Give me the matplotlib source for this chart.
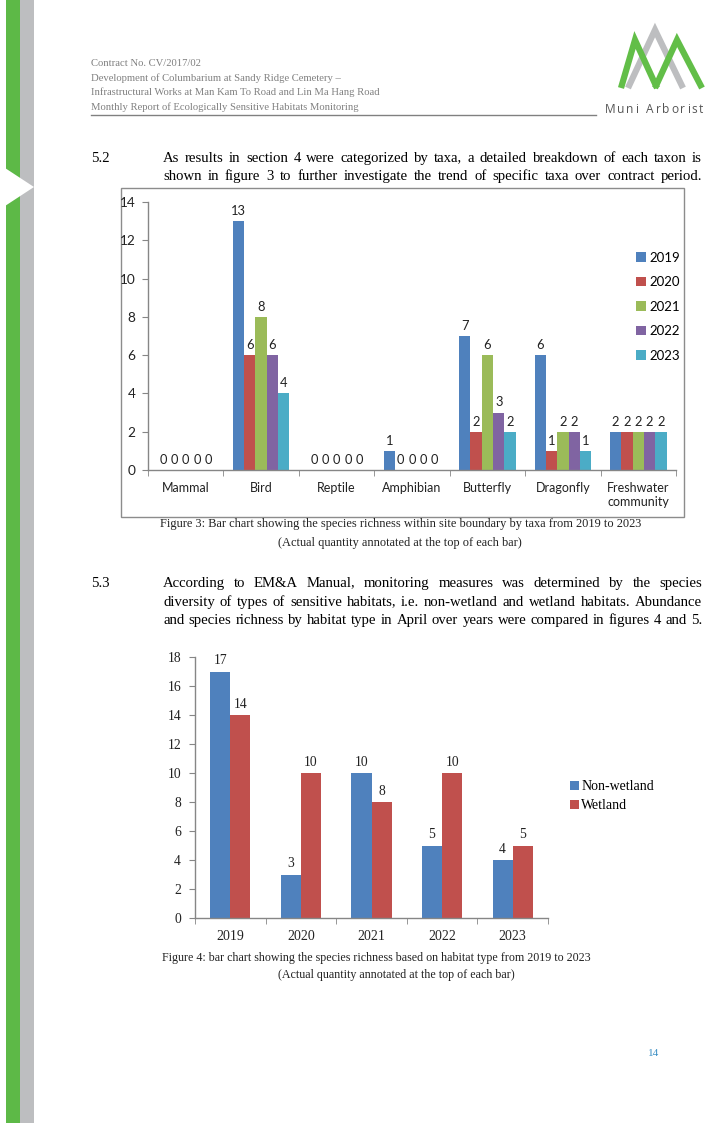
import math
import matplotlib
matplotlib.use("Agg")
import matplotlib.pyplot as plt
from matplotlib.patches import Rectangle, Polygon
from matplotlib.font_manager import FontProperties
import numpy as np

# ---------------- data ----------------
taxa = ["Mammal", "Bird", "Reptile", "Amphibian", "Butterfly", "Dragonfly", "Freshwater\ncommunity"]
years1 = ["2019", "2020", "2021", "2022", "2023"]
v2019 = [0, 13, 0, 1, 7, 6, 2]
v2020 = [0, 6, 0, 0, 2, 1, 2]
v2021 = [0, 8, 0, 0, 6, 2, 2]
v2022 = [0, 6, 0, 0, 3, 2, 2]
v2023 = [0, 4, 0, 0, 2, 1, 2]
series1 = [v2019, v2020, v2021, v2022, v2023]
yticks1 = [0, 2, 4, 6, 8, 10, 12, 14]

years2 = ["2019", "2020", "2021", "2022", "2023"]
nonwetland = [17, 3, 10, 5, 4]
wetland = [14, 10, 8, 10, 5]
yticks2 = [0, 2, 4, 6, 8, 10, 12, 14, 16, 18]

header_lines = ["Contract No. CV/2017/02",
                "Development of Columbarium at Sandy Ridge Cemetery \u2013",
                "Infrastructural Works at Man Kam To Road and Lin Ma Hang Road",
                "Monthly Report of Ecologically Sensitive Habitats Monitoring"]
para52 = ["As results in section 4 were categorized by taxa, a detailed breakdown of each taxon is",
          "shown in figure 3 to further investigate the trend of specific taxa over contract period."]
para53 = ["According to EM&A Manual, monitoring measures was determined by the species",
          "diversity of types of sensitive habitats, i.e. non-wetland and wetland habitats. Abundance",
          "and species richness by habitat type in April over years were compared in figures 4 and 5."]
cap3 = ["Figure 3: Bar chart showing the species richness within site boundary by taxa from 2019 to 2023",
        "(Actual quantity annotated at the top of each bar)"]
cap4 = ["Figure 4: bar chart showing the species richness based on habitat type from 2019 to 2023",
        "(Actual quantity annotated at the top of each bar)"]

colors1 = ["#4F81BD", "#C0504D", "#9BBB59", "#8064A2", "#4BACC6"]
colors2 = ["#4F81BD", "#C0504D"]

W, H = 709, 1123
fig = plt.figure(figsize=(W / 100, H / 100), dpi=100)
fig.patch.set_facecolor("white")

pg = fig.add_axes([0, 0, 1, 1], zorder=0)
pg.set_xlim(0, W)
pg.set_ylim(H, 0)
pg.axis("off")

SERIF = "Liberation Serif"
SANS = "Lato"

fig.canvas.draw()
renderer = fig.canvas.get_renderer()


def text_width(s, family, size):
    t = pg.text(0, 0, s, family=family, fontsize=size)
    w = t.get_window_extent(renderer=renderer).width
    t.remove()
    return w


def fit_size(s, family, target, base=10.0):
    return base * target / text_width(s, family, base)


def baseline_fix(word, family, size):
    """Sub-pixel shift so that words of one line land on the same pixel baseline in Agg."""
    try:
        from matplotlib.backends.backend_agg import get_hinting_flag
        font = renderer._prepare_font(FontProperties(family=family, size=size))
        font.set_text(word, 0.0, flags=get_hinting_flag())
        d = font.get_descent() / 64.0
        h = font.get_width_height()[1] / 64.0
        g = math.floor(h) - math.floor(h - d)
        return g - d
    except Exception:
        return 0.0


# left stripes
pg.add_patch(Rectangle((6, 0), 14, H, color="#5DB947", lw=0))
pg.add_patch(Rectangle((20, 0), 14, H, color="#BDBEC0", lw=0))
pg.add_patch(Polygon([(5, 168), (34, 187), (5, 206)], closed=True, color="white", lw=0))

# header
hsize = fit_size(header_lines[2], SERIF, 290)
for i, t in enumerate(header_lines):
    pg.text(91, 63 + i * 14.8, t, family=SERIF, fontsize=hsize, color="#808080", va="center", ha="left")
pg.plot([91, 596], [115, 115], color="#808080", lw=1)

# logo
pg.plot([628, 655, 683], [88, 30, 88], color="#BDBEC0", lw=4.5, solid_joinstyle="miter", solid_capstyle="butt")
pg.plot([621, 635, 657], [88, 40, 88], color="#62BE48", lw=4.5, solid_joinstyle="miter", solid_capstyle="butt")
pg.plot([655, 677, 702], [88, 40, 88], color="#62BE48", lw=4.5, solid_joinstyle="miter", solid_capstyle="butt")
logo_txt = "Muni Arborist"
lsize = 8.6
cw = [text_width(ch if ch != " " else "n", "Open Sans", lsize) * (0.6 if ch == " " else 1.0) for ch in logo_txt]
track = (98 - sum(cw)) / (len(logo_txt) - 1)
lx = 605
for ch, w in zip(logo_txt, cw):
    if ch != " ":
        pg.text(lx, 113, ch, family="Open Sans", fontsize=lsize, color="#555555", ha="left", va="baseline")
    lx += w + track


def justified(x0, x1, y, text, size, family=SERIF, color="black"):
    words = text.split()
    objs = []
    widths = []
    for w in words:
        t = pg.text(0, y + baseline_fix(w, family, size), w, family=family, fontsize=size,
                    color=color, va="baseline", ha="left")
        bb = t.get_window_extent(renderer=renderer)
        objs.append(t)
        widths.append(bb.width)
    total = sum(widths)
    gap = (x1 - x0 - total) / max(len(words) - 1, 1)
    x = x0
    for t, wd in zip(objs, widths):
        t.set_x(x)
        x += wd + gap


psize = min(fit_size(l, SERIF, 539) for l in para52 + para53) * 0.985

pg.text(91, 162 + baseline_fix("5.2", SERIF, psize), "5.2", family=SERIF, fontsize=psize, va="baseline", ha="left")
for i, line in enumerate(para52):
    justified(163, 702, round(162 + i * 18.5), line, psize)

pg.text(91, 587 + baseline_fix("5.3", SERIF, psize), "5.3", family=SERIF, fontsize=psize, va="baseline", ha="left")
for i, line in enumerate(para53):
    justified(163, 702, round(587 + i * 18.5), line, psize)

# captions
csize3 = fit_size(cap3[0], SERIF, 480)
pg.text(401, 524, cap3[0], family=SERIF, fontsize=csize3, color="#222222", ha="center", va="center")
pg.text(400, 543, cap3[1], family=SERIF, fontsize=csize3, color="#222222", ha="center", va="center")
csize4 = fit_size(cap4[0], SERIF, 427)
pg.text(376, 958, cap4[0], family=SERIF, fontsize=csize4, color="#222222", ha="center", va="center")
pg.text(396, 975, cap4[1], family=SERIF, fontsize=csize4, color="#222222", ha="center", va="center")

pg.text(648, 1054, "14", family=SERIF, fontsize=8, color="#3B8FC4", ha="left", va="center")

pg.add_patch(Rectangle((120.5, 187.5), 563, 329, fill=False, edgecolor="#8C8C8C", lw=1))


def fig_rect(x0, y_top, x1, y_bot):
    return [x0 / W, 1 - y_bot / H, (x1 - x0) / W, (y_bot - y_top) / H]


AXC = "#868686"

# ---------------- chart 1 ----------------
ax1 = fig.add_axes(fig_rect(148, 202, 676, 470), zorder=2)
ax1.patch.set_alpha(0)
x = np.arange(len(taxa))
bw = 0.15
for i, (vals, c, yr) in enumerate(zip(series1, colors1, years1)):
    pos = x + (i - 2) * bw
    ax1.bar(pos, vals, width=bw, color=c, label=yr, zorder=2)
    for p, v in zip(pos, vals):
        ax1.annotate(str(v), (p, v), xytext=(0, 3), textcoords="offset points",
                     ha="center", va="bottom", family=SANS, fontsize=9.3, color="#222222")
ax1.set_xlim(-0.5, len(taxa) - 0.5)
ax1.set_ylim(0, 14)
ax1.set_yticks(yticks1)
ax1.set_yticklabels([str(v) for v in yticks1], family=SANS, fontsize=9.8, color="#222222")
ax1.set_xticks(x)
ax1.set_xticklabels(taxa, family=SANS, fontsize=9, color="#222222")
ax1.set_xticks(np.arange(-0.5, len(taxa)), minor=True)
ax1.tick_params(axis="x", which="major", length=0, pad=9)
ax1.tick_params(axis="x", which="minor", length=4, color=AXC, direction="out")
ax1.tick_params(axis="y", length=4, color=AXC, direction="out", pad=5)
for s in ["top", "right"]:
    ax1.spines[s].set_visible(False)
for s in ["left", "bottom"]:
    ax1.spines[s].set_color(AXC)
    ax1.spines[s].set_linewidth(1)
ax1.legend(loc="upper left", bbox_to_anchor=(0.925, 0.815), frameon=False,
           handlelength=0.7, handleheight=0.7, handletextpad=0.3, labelspacing=0.95,
           prop={"family": SANS, "size": 9.5}, borderaxespad=0, borderpad=0)

# ---------------- chart 2 ----------------
ax2 = fig.add_axes(fig_rect(195, 657, 548, 918), zorder=2)
ax2.patch.set_alpha(0)
x2 = np.arange(len(years2))
bw2 = 0.2857
for i, (vals, c, lab) in enumerate(zip([nonwetland, wetland], colors2, ["Non-wetland", "Wetland"])):
    pos = x2 + (i - 0.5) * bw2
    ax2.bar(pos, vals, width=bw2, color=c, label=lab, zorder=2)
    for p, v in zip(pos, vals):
        ax2.annotate(str(v), (p, v), xytext=(0, 3), textcoords="offset points",
                     ha="center", va="bottom", family=SERIF, fontsize=9.8, color="#222222")
ax2.set_xlim(-0.5, len(years2) - 0.5)
ax2.set_ylim(0, 18)
ax2.set_yticks(yticks2)
ax2.set_yticklabels([str(v) for v in yticks2], family=SERIF, fontsize=9.8, color="#222222")
ax2.set_xticks(x2)
ax2.set_xticklabels(years2, family=SERIF, fontsize=10, color="#222222")
ax2.set_xticks(np.arange(-0.5, len(years2)), minor=True)
ax2.tick_params(axis="x", which="major", length=0, pad=9)
ax2.tick_params(axis="x", which="minor", length=4, color=AXC, direction="out")
ax2.tick_params(axis="y", length=4, color=AXC, direction="out", pad=6)
for s in ["top", "right"]:
    ax2.spines[s].set_visible(False)
for s in ["left", "bottom"]:
    ax2.spines[s].set_color(AXC)
    ax2.spines[s].set_linewidth(1)
ax2.legend(loc="upper left", bbox_to_anchor=(1.063, 0.528), frameon=False,
           handlelength=0.6, handleheight=0.6, handletextpad=0.2, labelspacing=0.45,
           prop={"family": SERIF, "size": 10}, borderaxespad=0, borderpad=0)

fig.savefig("out.png", dpi=100, facecolor="white")
